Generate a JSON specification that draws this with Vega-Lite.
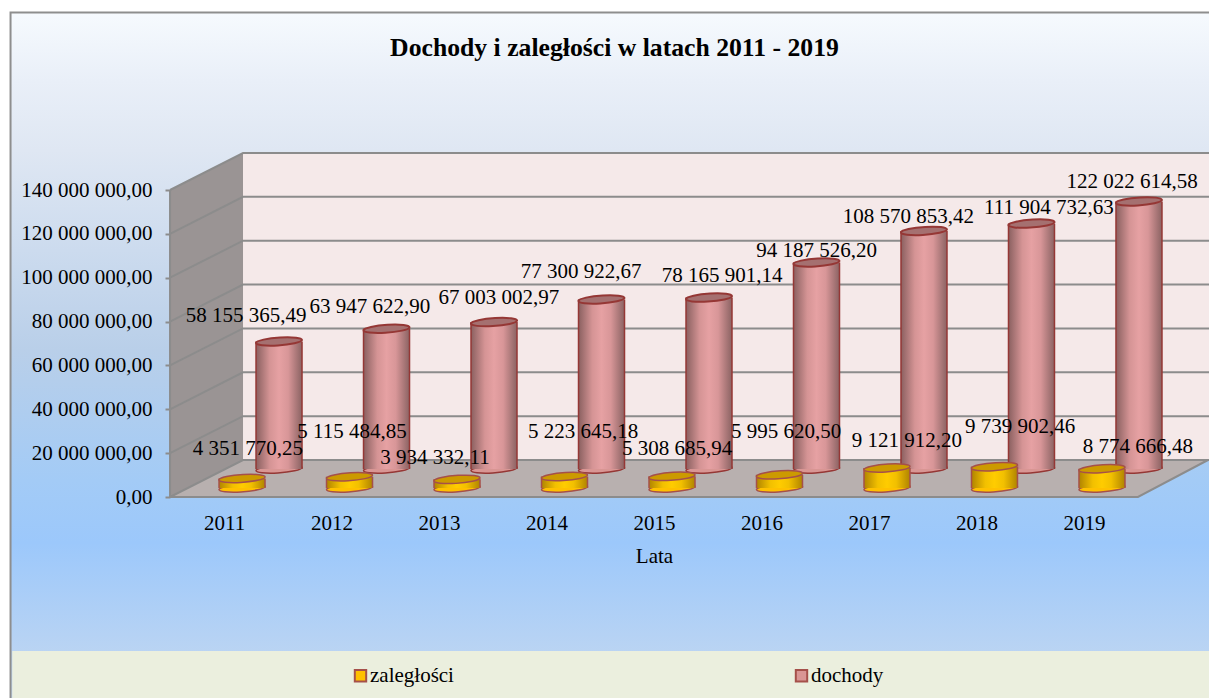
{
"$schema":"https://vega.github.io/schema/vega-lite/v6.json",
"autosize":{"type":"none"},"padding":0,"width":1209,"height":698,"background":"#ffffff",
"config":{"view":{"stroke":null},"font":"Liberation Serif","locale":{"number":{"decimal":",","thousands":" ","grouping":[3],"currency":["",""]}}},
"title":{"text":"Dochody i zaległości w latach 2011 - 2019","font":"Liberation Serif","fontSize":25.7,"fontWeight":"bold","color":"#000000","anchor":"middle","offset":-62,"dx":10},
"datasets":{
"tlo":[{"rok":2009.014,"rok2":2020.3,"wartosc":220950000,"wartosc2":-93000000}],
"pasek":[{"rok":2009.03,"rok2":2020.3,"wartosc":-70230000,"wartosc2":-93000000}],
"tyl":[{"rok":2011.1767,"rok2":2020.3,"wartosc":156870000,"wartosc2":16870000}],
"sciana":[{"rok":2010.4977,"wartosc":140000000,"wartosc2":0},{"rok":2011.1767,"wartosc":156870000,"wartosc2":16870000}],
"podloga":[{"rok":2010.4977,"wartosc":0,"wartosc2":0},{"rok":2011.1767,"wartosc":16870000,"wartosc2":0},{"rok":2019.5023,"wartosc":16870000,"wartosc2":0},{"rok":2020.1535,"wartosc":16870000,"wartosc2":16870000}],
"linie":[
{"linia":"g0","rok":2010.4977,"wartosc":0},{"linia":"g0","rok":2011.1767,"wartosc":16870000},{"linia":"g0","rok":2020.3,"wartosc":16870000},
{"linia":"g20","rok":2010.4977,"wartosc":20000000},{"linia":"g20","rok":2011.1767,"wartosc":36870000},{"linia":"g20","rok":2020.3,"wartosc":36870000},
{"linia":"g40","rok":2010.4977,"wartosc":40000000},{"linia":"g40","rok":2011.1767,"wartosc":56870000},{"linia":"g40","rok":2020.3,"wartosc":56870000},
{"linia":"g60","rok":2010.4977,"wartosc":60000000},{"linia":"g60","rok":2011.1767,"wartosc":76870000},{"linia":"g60","rok":2020.3,"wartosc":76870000},
{"linia":"g80","rok":2010.4977,"wartosc":80000000},{"linia":"g80","rok":2011.1767,"wartosc":96870000},{"linia":"g80","rok":2020.3,"wartosc":96870000},
{"linia":"g100","rok":2010.4977,"wartosc":100000000},{"linia":"g100","rok":2011.1767,"wartosc":116870000},{"linia":"g100","rok":2020.3,"wartosc":116870000},
{"linia":"g120","rok":2010.4977,"wartosc":120000000},{"linia":"g120","rok":2011.1767,"wartosc":136870000},{"linia":"g120","rok":2020.3,"wartosc":136870000},
{"linia":"g140","rok":2010.4977,"wartosc":140000000},{"linia":"g140","rok":2011.1767,"wartosc":156870000},{"linia":"g140","rok":2020.3,"wartosc":156870000},
{"linia":"os","rok":2010.4977,"wartosc":0},{"linia":"os","rok":2010.4977,"wartosc":140000000},
{"linia":"przod","rok":2010.4977,"wartosc":0},{"linia":"przod","rok":2019.5023,"wartosc":0},{"linia":"przod","rok":2020.1535,"wartosc":16870000}
],
"podstawy":[
{"rok":2011,"seria":"zaległości","wartosc":0},{"rok":2012,"seria":"zaległości","wartosc":0},{"rok":2013,"seria":"zaległości","wartosc":0},{"rok":2014,"seria":"zaległości","wartosc":0},{"rok":2015,"seria":"zaległości","wartosc":0},{"rok":2016,"seria":"zaległości","wartosc":0},{"rok":2017,"seria":"zaległości","wartosc":0},{"rok":2018,"seria":"zaległości","wartosc":0},{"rok":2019,"seria":"zaległości","wartosc":0},
{"rok":2011,"seria":"dochody","wartosc":0},{"rok":2012,"seria":"dochody","wartosc":0},{"rok":2013,"seria":"dochody","wartosc":0},{"rok":2014,"seria":"dochody","wartosc":0},{"rok":2015,"seria":"dochody","wartosc":0},{"rok":2016,"seria":"dochody","wartosc":0},{"rok":2017,"seria":"dochody","wartosc":0},{"rok":2018,"seria":"dochody","wartosc":0},{"rok":2019,"seria":"dochody","wartosc":0}
],
"etykiety":[
{"etykieta":58155365.49,"rok":2011.205,"wartosc":82540000},
{"etykieta":63947622.90,"rok":2012.358,"wartosc":86650000},
{"etykieta":67003002.97,"rok":2013.558,"wartosc":90750000},
{"etykieta":77300922.67,"rok":2014.321,"wartosc":102610000},
{"etykieta":78165901.14,"rok":2015.633,"wartosc":100780000},
{"etykieta":94187526.20,"rok":2016.512,"wartosc":112180000},
{"etykieta":108570853.42,"rok":2017.367,"wartosc":127690000},
{"etykieta":111904732.63,"rok":2018.674,"wartosc":131790000},
{"etykieta":122022614.58,"rok":2019.447,"wartosc":143650000},
{"etykieta":4351770.25,"rok":2011.223,"wartosc":21890000},
{"etykieta":5115484.85,"rok":2012.191,"wartosc":29640000},
{"etykieta":3934332.11,"rok":2012.963,"wartosc":17790000},
{"etykieta":5223645.18,"rok":2014.340,"wartosc":29640000},
{"etykieta":5308685.94,"rok":2015.214,"wartosc":21890000},
{"etykieta":5995620.50,"rok":2016.228,"wartosc":29640000},
{"etykieta":9121912.20,"rok":2017.353,"wartosc":25540000},
{"etykieta":9739902.46,"rok":2018.405,"wartosc":31920000},
{"etykieta":8774666.48,"rok":2019.502,"wartosc":22800000}
]},
"data":{"values":[
{"rok":2011,"seria":"zaległości","wartosc":4351770.25},{"rok":2012,"seria":"zaległości","wartosc":5115484.85},{"rok":2013,"seria":"zaległości","wartosc":3934332.11},{"rok":2014,"seria":"zaległości","wartosc":5223645.18},{"rok":2015,"seria":"zaległości","wartosc":5308685.94},{"rok":2016,"seria":"zaległości","wartosc":5995620.50},{"rok":2017,"seria":"zaległości","wartosc":9121912.20},{"rok":2018,"seria":"zaległości","wartosc":9739902.46},{"rok":2019,"seria":"zaległości","wartosc":8774666.48},
{"rok":2011,"seria":"dochody","wartosc":58155365.49},{"rok":2012,"seria":"dochody","wartosc":63947622.90},{"rok":2013,"seria":"dochody","wartosc":67003002.97},{"rok":2014,"seria":"dochody","wartosc":77300922.67},{"rok":2015,"seria":"dochody","wartosc":78165901.14},{"rok":2016,"seria":"dochody","wartosc":94187526.20},{"rok":2017,"seria":"dochody","wartosc":108570853.42},{"rok":2018,"seria":"dochody","wartosc":111904732.63},{"rok":2019,"seria":"dochody","wartosc":122022614.58}
]},
"encoding":{
"x":{"field":"rok","type":"quantitative","scale":{"domain":[2008.916,2020.163],"nice":false,"zero":false,"padding":0},
 "axis":{"orient":"bottom","offset":-201,"values":[2011,2012,2013,2014,2015,2016,2017,2018,2019],"format":"d","domain":false,"ticks":false,"grid":false,"labelFont":"Liberation Serif","labelFontSize":21,"labelColor":"#000000","labelPadding":15,"labelFlush":false,"title":"Lata","titleFont":"Liberation Serif","titleFontSize":21,"titleFontWeight":"normal","titleColor":"#000000","titlePadding":12,"titleX":654,"zindex":1}},
"y":{"field":"wartosc","type":"quantitative","scale":{"domain":[-91661000,226647000],"nice":false,"zero":false},
 "axis":{"orient":"left","offset":-170,"values":[0,20000000,40000000,60000000,80000000,100000000,120000000,140000000],"format":",.2f","domain":false,"ticks":true,"tickSize":5,"tickWidth":2,"tickColor":"#8c8c8c","grid":false,"labelFont":"Liberation Serif","labelFontSize":21,"labelColor":"#000000","labelPadding":13,"title":null,"zindex":1}}
},
"layer":[
{"data":{"name":"tlo"},"mark":{"type":"rect","stroke":"#8e8e8e","strokeWidth":2,"fill":{"gradient":"linear","x1":0,"x2":0,"y1":0,"y2":1,"stops":[{"offset":0,"color":"#f6fafe"},{"offset":0.1,"color":"#e9eff8"},{"offset":0.2,"color":"#dfe7f3"},{"offset":0.49,"color":"#b9cfe9"},{"offset":0.68,"color":"#a3cbf6"},{"offset":0.77,"color":"#9cc8fb"},{"offset":0.93,"color":"#bad4f3"},{"offset":1,"color":"#c4daf3"}]}},
 "encoding":{"x2":{"field":"rok2"},"y2":{"field":"wartosc2"}}},
{"data":{"name":"pasek"},"mark":{"type":"rect","fill":"#ebefde"},"encoding":{"x2":{"field":"rok2"},"y2":{"field":"wartosc2"}}},
{"data":{"name":"tyl"},"mark":{"type":"rect","fill":"#f5e9e9"},"encoding":{"x2":{"field":"rok2"},"y2":{"field":"wartosc2"}}},
{"data":{"name":"sciana"},"mark":{"type":"area","orient":"vertical","fill":"#9a9494"},"encoding":{"y2":{"field":"wartosc2"}}},
{"data":{"name":"podloga"},"mark":{"type":"area","orient":"vertical","fill":"#b8b0af"},"encoding":{"y2":{"field":"wartosc2"}}},
{"data":{"name":"linie"},"mark":{"type":"line","color":"#8c8c8c","strokeWidth":2},"encoding":{"detail":{"field":"linia","type":"nominal"}}},

{"data":{"name":"podstawy"},"transform":[{"filter":"datum.seria==='dochody'"}],"mark":{"type":"point","filled":true,"opacity":1,"shape":"M-1,0.06A1,0.17 -4 1,1 1,-0.06A1,0.17 -4 1,1 -1,0.06Z","size":2116,"stroke":"#953735","strokeWidth":1.5,"xOffset":55,"yOffset":-28},
 "encoding":{"color":{"field":"seria","type":"nominal","scale":{"domain":["zaległości","dochody"],"range":["#ffc000","#d99694"]},
 "legend":{"orient":"none","legendX":350,"legendY":665,"direction":"horizontal","columns":2,"columnPadding":337,"title":null,"symbolType":"square","symbolSize":130,"symbolStrokeColor":"#953735","symbolStrokeWidth":2,"symbolOpacity":1,"labelFont":"Liberation Serif","labelFontSize":21,"labelColor":"#000000","labelOffset":-1}}}},
{"transform":[{"filter":"datum.seria==='dochody'"}],"mark":{"type":"bar","orient":"vertical","size":46,"xOffset":55,"yOffset":-28,"y2Offset":-28,"fill":{"gradient":"linear","x1":0,"x2":1,"y1":0,"y2":0,"stops":[{"offset":0,"color":"#8a6060"},{"offset":0.3,"color":"#d59495"},{"offset":0.5,"color":"#e6a1a3"},{"offset":0.7,"color":"#d89698"},{"offset":1,"color":"#8b6363"}]}},
 "encoding":{"y2":{"datum":0}}},
{"transform":[{"filter":"datum.seria==='dochody'"}],"mark":{"type":"rule","color":"#953735","strokeWidth":1.5,"xOffset":32,"yOffset":-28,"y2Offset":-28},"encoding":{"y2":{"datum":0}}},
{"transform":[{"filter":"datum.seria==='dochody'"}],"mark":{"type":"rule","color":"#953735","strokeWidth":1.5,"xOffset":78,"yOffset":-28,"y2Offset":-28},"encoding":{"y2":{"datum":0}}},
{"transform":[{"filter":"datum.seria==='dochody'"}],"mark":{"type":"point","filled":true,"opacity":1,"shape":"M-1,0.06A1,0.17 -4 1,1 1,-0.06A1,0.17 -4 1,1 -1,0.06Z","size":2116,"fill":"#a57070","stroke":"#953735","strokeWidth":2,"xOffset":55,"yOffset":-28}},

{"data":{"name":"podstawy"},"transform":[{"filter":"datum.seria==='zaległości'"}],"mark":{"type":"point","filled":true,"opacity":1,"shape":"M-1,0.06A1,0.17 -4 1,1 1,-0.06A1,0.17 -4 1,1 -1,0.06Z","size":2116,"stroke":"#a5504a","strokeWidth":1.5,"xOffset":18,"yOffset":-9},
 "encoding":{"color":{"field":"seria","type":"nominal"}}},
{"transform":[{"filter":"datum.seria==='zaległości'"}],"mark":{"type":"bar","orient":"vertical","size":46,"xOffset":18,"yOffset":-9,"y2Offset":-9,"fill":{"gradient":"linear","x1":0,"x2":1,"y1":0,"y2":0,"stops":[{"offset":0,"color":"#b08400"},{"offset":0.3,"color":"#f2c000"},{"offset":0.5,"color":"#ffcc00"},{"offset":0.7,"color":"#f2c000"},{"offset":1,"color":"#b08400"}]}},
 "encoding":{"y2":{"datum":0}}},
{"transform":[{"filter":"datum.seria==='zaległości'"}],"mark":{"type":"rule","color":"#a5504a","strokeWidth":1.5,"xOffset":-5,"yOffset":-9,"y2Offset":-9},"encoding":{"y2":{"datum":0}}},
{"transform":[{"filter":"datum.seria==='zaległości'"}],"mark":{"type":"rule","color":"#a5504a","strokeWidth":1.5,"xOffset":41,"yOffset":-9,"y2Offset":-9},"encoding":{"y2":{"datum":0}}},
{"transform":[{"filter":"datum.seria==='zaległości'"}],"mark":{"type":"point","filled":true,"opacity":1,"shape":"M-1,0.06A1,0.17 -4 1,1 1,-0.06A1,0.17 -4 1,1 -1,0.06Z","size":2116,"fill":"#cc9a00","stroke":"#a5504a","strokeWidth":1.5,"xOffset":18,"yOffset":-9}},

{"data":{"name":"etykiety"},"mark":{"type":"text","font":"Liberation Serif","fontSize":21,"color":"#000000","align":"center","baseline":"middle"},
 "encoding":{"text":{"field":"etykieta","type":"quantitative","format":",.2f"}}}
]
}
